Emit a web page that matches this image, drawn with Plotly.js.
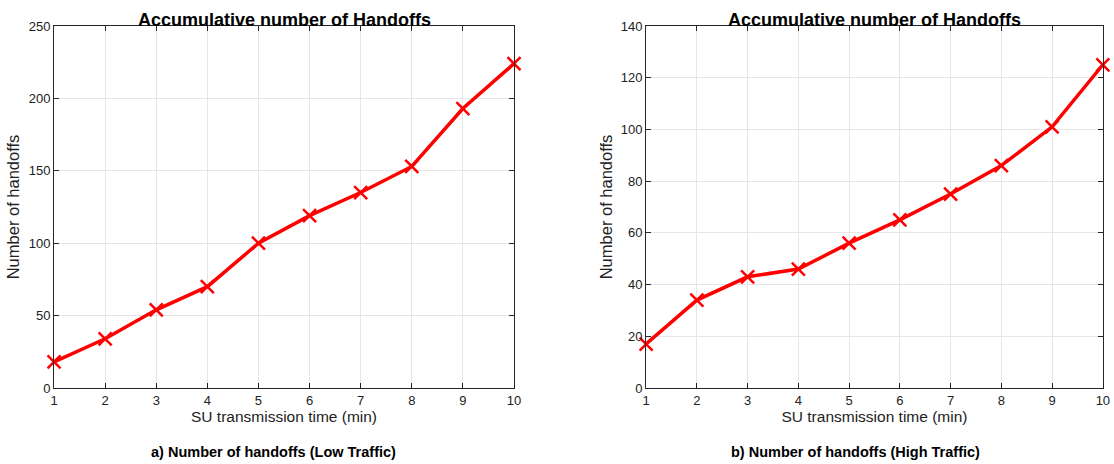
<!DOCTYPE html>
<html><head><meta charset="utf-8">
<script src="https://cdn.plot.ly/plotly-3.0.1.min.js"></script>
<style>html,body{margin:0;padding:0;background:#fff}#c{width:1114px;height:464px}</style>
</head><body><div id="c"></div>
<script>
var time = [1,2,3,4,5,6,7,8,9,10];
var lowTraffic = [18,34,54,70,100,119,135,153,193,224];
var highTraffic = [17,34,43,46,56,65,75,86,101,125];
var chartTitle = "Accumulative number of Handoffs";
var xTitle = "SU transmission time (min)";
var yTitle = "Number of handoffs";
var captionA = "a) Number of handoffs (Low Traffic)";
var captionB = "b) Number of handoffs (High Traffic)";

var F = "Liberation Sans, Arial, sans-serif";
function tr(y, xa, ya){
  return {x: time, y: y, xaxis: xa, yaxis: ya, type:'scatter', mode:'lines+markers',
    line:{color:'#ff0000', width:3.5},
    marker:{symbol:'x-thin-open', size:13, color:'#ff0000', line:{color:'#ff0000', width:2.5}},
    showlegend:false, cliponaxis:false};
}
function xax(dom, anchor){
  return {domain:dom, anchor:anchor, range:[1,10], tickvals:time, ticks:'inside', ticklen:5,
    tickcolor:'#262626', showline:true, linecolor:'#262626', linewidth:1, mirror:'ticks',
    showgrid:true, gridcolor:'#e6e6e6', zeroline:false,
    tickfont:{family:F, size:13, color:'#222'},
    title:{text:xTitle, font:{family:F, size:15.5, color:'#222'}, standoff:0}};
}
function yax(dom, anchor, max, step){
  return {domain:dom, anchor:anchor, range:[0,max], dtick:step, ticks:'inside', ticklen:5,
    tickcolor:'#262626', showline:true, linecolor:'#262626', linewidth:1, mirror:'ticks',
    showgrid:true, gridcolor:'#e6e6e6', zeroline:false, ticklabelstandoff:0,
    tickfont:{family:F, size:13, color:'#222'},
    title:{text:yTitle, font:{family:F, size:16.5, color:'#222'}, standoff:4}};
}
var yd = [0.1638, 0.944];
var layout = {
  width:1114, height:464, margin:{l:0,r:0,t:0,b:0}, paper_bgcolor:'#fff', plot_bgcolor:'#fff',
  xaxis: xax([0.0485,0.4614],'y'),
  yaxis: yax(yd,'x',250,50),
  xaxis2: xax([0.580,0.990],'y2'),
  yaxis2: yax(yd,'x2',140,20),
  annotations:[
    {text:'<b>'+chartTitle+'</b>', xref:'paper', yref:'paper', x:(0.0485+0.4614)/2, xanchor:'center', y:0.944, yanchor:'bottom', yshift:-6, showarrow:false, font:{family:F,size:18,color:'#000'}},
    {text:'<b>'+chartTitle+'</b>', xref:'paper', yref:'paper', x:(0.580+0.990)/2, xanchor:'center', y:0.944, yanchor:'bottom', yshift:-6, showarrow:false, font:{family:F,size:18,color:'#000'}},
    {text:'<b>'+captionA+'</b>', xref:'paper', yref:'paper', x:273/1114, xanchor:'center', y:(464-452)/464, yanchor:'middle', showarrow:false, font:{family:F,size:14.5,color:'#000'}},
    {text:'<b>'+captionB+'</b>', xref:'paper', yref:'paper', x:855/1114, xanchor:'center', y:(464-452)/464, yanchor:'middle', showarrow:false, font:{family:F,size:14.5,color:'#000'}}
  ]
};
Plotly.newPlot('c', [tr(lowTraffic,'x','y'), tr(highTraffic,'x2','y2')], layout, {displayModeBar:false, staticPlot:true});
</script></body></html>
